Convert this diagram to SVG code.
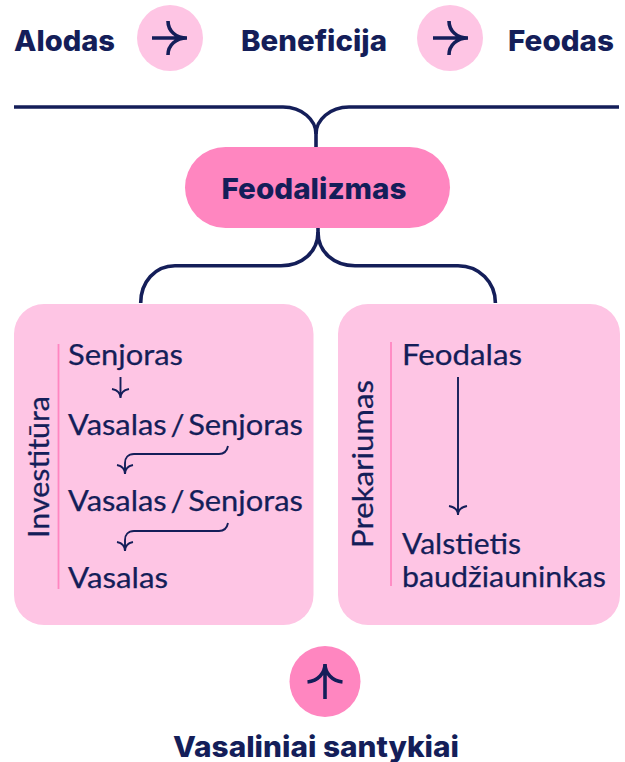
<svg xmlns="http://www.w3.org/2000/svg" width="625" height="762" viewBox="0 0 625 762">
<style>
.b{font-family:"Inter","Liberation Sans",sans-serif;font-weight:800;fill:#141e59}
.r{font-family:"Lato","Open Sans",sans-serif;font-size:29.500px;fill:#141e59;stroke:#141e59;stroke-width:.25}
.w{word-spacing:-4px}
.c{fill:none;stroke:#141e59;stroke-width:3.6}
.t{fill:none;stroke:#141e59;stroke-width:1.9}
.i{fill:none;stroke:#141e59;stroke-width:3.6}
.s{stroke:#ff86c0;stroke-width:1.8}
</style>
<rect width="625" height="762" fill="#fff"/>
<g id="connectors">
<path class="c" d="M14 107H283C302 107 316 120 316 134V147"/>
<path class="c" d="M619 107H349C330 107 316 120 316 134"/>
<path class="c" d="M318 228V232C318 252 302 265.7 281 265.7H175C155 265.7 140.7 282 140.7 303"/>
<path class="c" d="M318 232C318 252 334 265.7 355 265.7H458C479 265.7 495.4 282 495.4 303"/>
</g>
<g id="alodas"><text class="b" x="14" y="50.500" font-size="29" textLength="101" lengthAdjust="spacingAndGlyphs">Alodas</text></g>
<g id="arrow-1"><circle cx="170" cy="38" r="33" fill="#fec5e4"/>
<path class="i" d="M152 38H187M168 21C168 31 176 38 187 38C176 38 168 45 168 55"/></g>
<g id="beneficija"><text class="b" x="241" y="50.500" font-size="29" textLength="146" lengthAdjust="spacingAndGlyphs">Beneficija</text></g>
<g id="arrow-2"><circle cx="450" cy="38" r="33" fill="#fec5e4"/>
<path class="i" d="M433 38H468M449 21C449 31 457 38 468 38C457 38 449 45 449 55"/></g>
<g id="feodas"><text class="b" x="508" y="50.500" font-size="29" textLength="106" lengthAdjust="spacingAndGlyphs">Feodas</text></g>
<g id="feodalizmas"><rect x="185" y="147" width="265" height="81" rx="40.500" fill="#ff86c0"/>
<text class="b" x="221.500" y="198.500" font-size="29" textLength="185" lengthAdjust="spacingAndGlyphs">Feodalizmas</text></g>
<g id="investitura"><rect x="14" y="304" width="299.500" height="321" rx="30" fill="#fec5e4"/>
<line class="s" x1="58.500" y1="344" x2="58.500" y2="589"/>
<text class="r" transform="translate(49 538) rotate(-90)" textLength="142" lengthAdjust="spacingAndGlyphs">Investitūra</text>
<text class="r" x="68" y="365" textLength="115" lengthAdjust="spacingAndGlyphs">Senjoras</text>
<text class="r w" x="68" y="435" textLength="235" lengthAdjust="spacingAndGlyphs">Vasalas / Senjoras</text>
<text class="r w" x="68" y="511" textLength="235" lengthAdjust="spacingAndGlyphs">Vasalas / Senjoras</text>
<text class="r" x="68" y="588" textLength="100" lengthAdjust="spacingAndGlyphs">Vasalas</text>
<path class="t" d="M120.500 377V398M112 389C117 390 120.500 393 120.500 398C120.500 393 124 390 129 389"/>
<path class="t" d="M228 446C227 451 224 454 219 454H134C128 454 125 458 125 463V474M117 465C122 466 125 469 125 474C125 469 128 466 133 465"/>
<path class="t" d="M228 523C227 528 224 531 219 531H134C128 531 125 535 125 540V551M117 542C122 543 125 546 125 551C125 546 128 543 133 542"/>
</g>
<g id="prekariumas"><rect x="338" y="304" width="282" height="321" rx="30" fill="#fec5e4"/>
<line class="s" x1="391" y1="342" x2="391" y2="586"/>
<text class="r" transform="translate(372.500 548) rotate(-90)" textLength="168" lengthAdjust="spacingAndGlyphs">Prekariumas</text>
<text class="r" x="402" y="365" textLength="120" lengthAdjust="spacingAndGlyphs">Feodalas</text>
<text class="r" x="402" y="554" textLength="119" lengthAdjust="spacingAndGlyphs">Valstietis</text>
<text class="r" x="402" y="587" textLength="204" lengthAdjust="spacingAndGlyphs">baudžiauninkas</text>
<path class="t" d="M458 377V515M449 506C454 507 458 510 458 515C458 510 462 507 467 506"/>
</g>
<g id="vasaliniai"><circle cx="325" cy="681.500" r="35.500" fill="#ff86c0"/>
<path class="i" d="M325 664V699M307.500 682C318 681 325 673 325 664C325 673 332 681 342.500 682"/>
<text class="b" x="173" y="756.500" font-size="28.500" textLength="286" lengthAdjust="spacingAndGlyphs">Vasaliniai santykiai</text></g>
</svg>
